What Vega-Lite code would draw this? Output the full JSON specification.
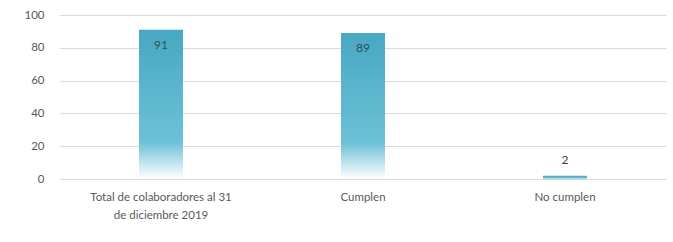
{
  "$schema": "https://vega.github.io/schema/vega-lite/v6.json",
  "width": 606,
  "height": 164,
  "autosize": "none",
  "padding": {"left": 60, "top": 15, "right": 7, "bottom": 63},
  "background": "white",
  "config": {
    "view": {"stroke": null},
    "font": "Lato",
    "axis": {"labelFont": "Lato", "labelColor": "#595959", "labelFontSize": 11.5}
  },
  "data": {"values": [
    {"categoria": "Total de colaboradores al 31 de diciembre 2019", "valor": 91},
    {"categoria": "Cumplen", "valor": 89},
    {"categoria": "No cumplen", "valor": 2}
  ]},
  "encoding": {
    "x": {
      "field": "categoria", "type": "nominal",
      "sort": ["Total de colaboradores al 31 de diciembre 2019", "Cumplen", "No cumplen"],
      "scale": {"paddingInner": 0, "paddingOuter": 0},
      "axis": {
        "title": null, "labelAngle": 0, "domain": false, "ticks": false, "labelPadding": 12,
        "labelLineHeight": 18,
        "labelExpr": "datum.label == 'Total de colaboradores al 31 de diciembre 2019' ? ['Total de colaboradores al 31', 'de diciembre 2019'] : datum.label"
      }
    },
    "y": {
      "field": "valor", "type": "quantitative",
      "scale": {"domain": [0, 100]},
      "axis": {
        "title": null, "values": [0, 20, 40, 60, 80, 100], "domain": false, "ticks": false,
        "labelPadding": 16, "gridColor": "#d9d9d9", "gridWidth": 1
      }
    }
  },
  "layer": [
    {
      "mark": {
        "type": "bar", "size": 44,
        "color": {
          "gradient": "linear", "x1": 0, "y1": 0, "x2": 0, "y2": 1,
          "stops": [
            {"offset": 0, "color": "#48a7c3"},
            {"offset": 0.75, "color": "#6cc1d7"},
            {"offset": 1, "color": "#ffffff"}
          ]
        }
      }
    },
    {
      "transform": [{"filter": "datum.valor >= 10"}],
      "mark": {"type": "text", "baseline": "top", "dy": 10, "fontSize": 12, "color": "#2f4f5a"},
      "encoding": {"text": {"field": "valor", "type": "quantitative"}}
    },
    {
      "transform": [{"filter": "datum.valor < 10"}],
      "mark": {"type": "text", "baseline": "bottom", "dy": -9, "fontSize": 12, "color": "#404040"},
      "encoding": {"text": {"field": "valor", "type": "quantitative"}}
    }
  ]
}
